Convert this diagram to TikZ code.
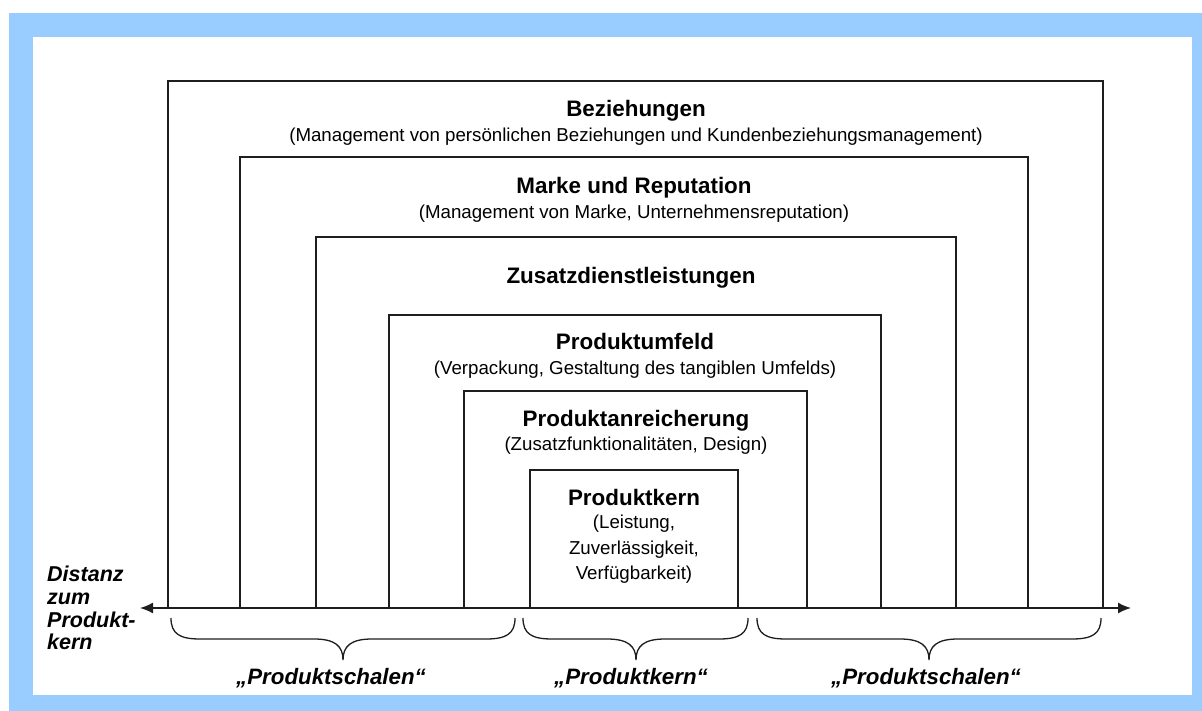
\documentclass[tikz,border=0pt]{standalone}
\usepackage{fontspec}
\setmainfont{Liberation Sans}
\usetikzlibrary{arrows.meta}
\definecolor{frameblue}{RGB}{153,204,255}
\definecolor{linegray}{RGB}{30,30,30}
\begin{document}
\begin{tikzpicture}[x=1pt,y=-1pt,
  shell/.style={draw=linegray,line width=1.8pt},
  title/.style={font=\fontsize{22.4}{25}\selectfont\bfseries,inner sep=0pt,anchor=base},
  sub/.style={font=\fontsize{18.7}{25.5}\selectfont,inner sep=0pt,anchor=base,align=center},
  brace/.style={draw=linegray,line width=1.3pt},
  blabel/.style={font=\fontsize{22.3}{25}\selectfont\bfseries\itshape,inner sep=0pt,anchor=base}]
\useasboundingbox (0,0) rectangle (1202,711);
% light blue frame
\fill[frameblue] (9,13) rectangle (1202,711);
\fill[white] (33,37) rectangle (1192,695);

% nested shells, open towards the axis
\coordinate (axL) at (140,608);
\coordinate (axR) at (1131,608);
\draw[shell] (168,608) |- (1103,81) -- (1103,608);
\draw[shell] (240,608) |- (1028,157) -- (1028,608);
\draw[shell] (316,608) |- (956,237) -- (956,608);
\draw[shell] (389,608) |- (881,315) -- (881,608);
\draw[shell] (464,608) |- (807,391) -- (807,608);
\draw[shell] (530,608) |- (738,470) -- (738,608);

% axis
\draw[line width=1.6pt,draw=linegray,{Latex[length=13pt,width=11pt]}-{Latex[length=13pt,width=11pt]}] (axL) -- (axR);

% shell texts
\node[title] (t1) at (636,117) {Beziehungen};
\node[sub]   (s1) at (636,142) {(Management von persönlichen Beziehungen und Kundenbeziehungsmanagement)};
\node[title] (t2) at (634,194) {Marke und Reputation};
\node[sub]   (s2) at (634,219) {(Management von Marke, Unternehmensreputation)};
\node[title] (t3) at (631,284) {Zusatzdienstleistungen};
\node[title] (t4) at (635,349) {Produktumfeld};
\node[sub]   (s4) at (635,374) {(Verpackung, Gestaltung des tangiblen Umfelds)};
\node[title] (t5) at (636,426) {Produktanreicherung};
\node[sub]   (s5) at (636,450) {(Zusatzfunktionalitäten, Design)};
\node[title] (t6) at (634,505) {Produktkern};
\node[sub,anchor=north] (s6) at (634,515) {(Leistung,\\Zuverlässigkeit,\\Verfügbarkeit)};

% axis caption
\node[font=\fontsize{21.5}{22.7}\selectfont\bfseries\itshape,align=left,anchor=north west,inner sep=0pt] (dist) at (47,566) {Distanz\\zum\\Produkt-\\kern};

% braces
\draw[brace] (171,618) .. controls (171,634) and (180,639) .. (200,639) -- (314,639)
  .. controls (335,639) and (343,646) .. (343,660)
  .. controls (343,646) and (351,639) .. (372,639) -- (486,639)
  .. controls (506,639) and (515,634) .. (515,618);
\draw[brace] (523,618) .. controls (523,634) and (532,639) .. (552,639) -- (607,639)
  .. controls (628,639) and (636,646) .. (636,660)
  .. controls (636,646) and (644,639) .. (665,639) -- (719,639)
  .. controls (739,639) and (748,634) .. (748,618);
\draw[brace] (757,618) .. controls (757,634) and (766,639) .. (786,639) -- (900,639)
  .. controls (921,639) and (929,646) .. (929,660)
  .. controls (929,646) and (937,639) .. (958,639) -- (1072,639)
  .. controls (1092,639) and (1101,634) .. (1101,618);

\node[blabel] (bl) at (331,684) {„Produktschalen“};
\node[blabel] (bm) at (631,684) {„Produktkern“};
\node[blabel] (br) at (926,684) {„Produktschalen“};
\end{tikzpicture}
\end{document}
